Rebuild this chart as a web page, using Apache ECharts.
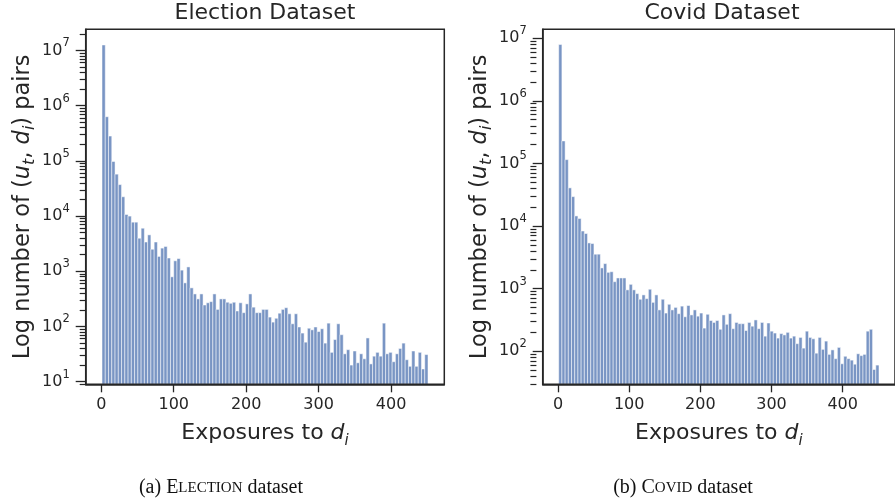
<!DOCTYPE html>
<html><head><meta charset="utf-8">
<script src="https://cdn.jsdelivr.net/npm/echarts@6/dist/echarts.min.js"></script>
<style>html,body{margin:0;padding:0;background:#fff}#c{width:895px;height:502px}</style>
</head><body><div id="c"></div>
<script>
// Histogram bins: 100 bins of width 4.5 starting at exposure 1
const binStart = 1;
const binWidth = 4.5;
const xTicks = [0, 100, 200, 300, 400];
const yMajor = [10, 100, 1e3, 1e4, 1e5, 1e6, 1e7];
const yMinor = [];
for (let e = 0; e <= 7; e++) for (let m = 2; m <= 9; m++) yMinor.push(m * Math.pow(10, e));

const electionCounts = [12600000, 631000, 282000, 97700, 57500, 37200, 22400, 10700, 10000, 7760,
 7760, 3980, 6030, 3390, 4570, 2510, 3390, 1860, 2630, 2820,
 1740, 794, 1550, 1700, 1050, 617, 1200, 501, 389, 316,
 389, 245, 269, 282, 389, 204, 316, 316, 275, 263,
 275, 191, 269, 178, 257, 389, 224, 178, 178, 204,
 204, 148, 120, 141, 174, 204, 219, 170, 112, 170,
 98, 76, 52, 93, 87, 98, 81, 91, 50, 115,
 34, 58, 112, 71, 32, 38, 20, 36, 22, 32,
 26, 62, 21, 29, 34, 29, 115, 32, 34, 23,
 32, 40, 50, 25, 19, 36, 19, 34, 17, 31];

const covidCounts = [7940000, 229000, 115000, 40700, 29500, 14500, 13200, 8320, 7590, 5370,
 5250, 3550, 3550, 2140, 2510, 1820, 1860, 1290, 1480, 1480,
 1480, 955, 1170, 955, 832, 676, 794, 692, 977, 603,
 794, 457, 676, 407, 562, 457, 501, 398, 525, 355,
 537, 380, 457, 363, 407, 234, 389, 309, 288, 309,
 224, 380, 269, 398, 229, 288, 275, 275, 214, 288,
 251, 316, 229, 288, 174, 282, 209, 195, 162, 191,
 182, 200, 162, 174, 132, 166, 112, 209, 166, 158,
 93, 166, 107, 145, 89, 105, 76, 115, 63, 83,
 76, 72, 62, 91, 85, 89, 209, 224, 51, 60];

const titles = ['Election Dataset', 'Covid Dataset'];
const yRange = [[8.97, 2.42e7], [29.6, 1.39e7]];
const xRange = [-21.5, 473.5];

const INK = '#262626';
const BAR = '#7995c4';
const FONT = 'DejaVu Sans';

function toBins(counts) {
  return counts.map((c, i) => [binStart + i * binWidth, binStart + (i + 1) * binWidth, c]);
}

const grids = [
  {left: 85.7, top: 29.3, width: 358.6, height: 355},
  {left: 542.7, top: 29.3, width: 358.6, height: 355}
];

function nameRich(fs) {
  return {
    n: {fontSize: fs, fontFamily: FONT, color: INK, lineHeight: fs + 8},
    i: {fontSize: fs, fontFamily: FONT, color: INK, fontStyle: 'italic', lineHeight: fs + 8},
    s: {fontSize: Math.round(fs * 0.7), fontFamily: FONT, color: INK, fontStyle: 'italic', lineHeight: 14, verticalAlign: 'bottom'}
  };
}

const xAxes = [], yAxes = [], series = [];
[0, 1].forEach(g => {
  xAxes.push({
    type: 'value', gridIndex: g, min: xRange[0], max: xRange[1], z: 5,
    axisLine: {show: true, onZero: false, lineStyle: {color: INK, width: 1.5}},
    axisTick: {show: true, customValues: xTicks, length: 8, lineStyle: {color: INK, width: 1.3}},
    axisLabel: {customValues: xTicks, fontSize: 16, color: INK, fontFamily: FONT, margin: 13},
    splitLine: {show: false},
    name: '{n|Exposures to }{i|d}{s|i}', nameLocation: 'middle', nameGap: 34,
    nameTextStyle: {rich: nameRich(22)}
  });
  yAxes.push({
    type: 'log', gridIndex: g, min: yRange[g][0], max: yRange[g][1], position: 'left', z: 5,
    axisLine: {show: true, onZero: false, lineStyle: {color: INK, width: 1.5}},
    axisTick: {show: true, customValues: yMajor, length: 10, lineStyle: {color: INK, width: 1.3}},
    axisLabel: {
      customValues: yMajor, margin: 16,
      formatter: v => '{b|10}{s|' + Math.round(Math.log10(v)) + '}',
      rich: {
        b: {fontSize: 16, color: INK, fontFamily: FONT, lineHeight: 26},
        s: {fontSize: 11.5, color: INK, fontFamily: FONT, lineHeight: 14, verticalAlign: 'top'}
      }
    },
    splitLine: {show: false}, minorTick: {show: false},
    name: '{n|Log number of (}{i|u}{s|t}{n|, }{i|d}{s|i}{n|) pairs}',
    nameLocation: 'middle', nameGap: 45, nameRotate: 90,
    nameTextStyle: {rich: nameRich(22.5)}
  });
  // minor ticks: a second log axis placed on the right, shifted back onto the left spine
  yAxes.push({
    type: 'log', gridIndex: g, min: yRange[g][0], max: yRange[g][1], position: 'right',
    offset: -grids[g].width, z: 5,
    axisLine: {show: false, onZero: false},
    axisTick: {show: true, inside: true, interval: 0, customValues: yMinor, length: 6, lineStyle: {color: INK, width: 1.2}},
    axisLabel: {show: false},
    splitLine: {show: false}
  });
  const yMin = yRange[g][0];
  series.push({
    type: 'custom', xAxisIndex: g, yAxisIndex: g * 2,
    data: toBins(g === 0 ? electionCounts : covidCounts),
    encode: {x: [0, 1], y: 2},
    renderItem: (params, api) => {
      const p0 = api.coord([api.value(0), api.value(2)]);
      const p1 = api.coord([api.value(1), yMin]);
      return {
        type: 'rect',
        shape: {x: p0[0], y: p0[1], width: p1[0] - p0[0], height: p1[1] - p0[1]},
        style: {fill: BAR, stroke: '#ffffff', lineWidth: 0.5}
      };
    }
  });
});

const capRich = {
  n: {fontSize: 20, fontFamily: 'Liberation Serif', fill: '#111'},
  c: {fontSize: 20, fontFamily: 'Liberation Serif', fill: '#111'},
  sc: {fontSize: 15, fontFamily: 'Liberation Serif', fill: '#111'}
};

const graphics = [
  {type: 'text', x: 265, y: 13, style: {text: titles[0], fontSize: 22, fontFamily: FONT, fill: INK, align: 'center', verticalAlign: 'middle'}},
  {type: 'text', x: 722, y: 13, style: {text: titles[1], fontSize: 22, fontFamily: FONT, fill: INK, align: 'center', verticalAlign: 'middle'}},
  {type: 'text', x: 221, y: 488, style: {text: '{n|(a) }{c|E}{sc|LECTION}{n| dataset}', align: 'center', verticalAlign: 'middle', rich: capRich}},
  {type: 'text', x: 683, y: 488, style: {text: '{n|(b) }{c|C}{sc|OVID}{n| dataset}', align: 'center', verticalAlign: 'middle', rich: capRich}}
];

const chart = echarts.init(document.getElementById('c'), null, {renderer: 'canvas'});
chart.setOption({
  animation: false,
  backgroundColor: '#ffffff',
  grid: grids.map(g => Object.assign({show: true, borderColor: INK, borderWidth: 1.5, backgroundColor: 'transparent', z: 4}, g)),
  xAxis: xAxes,
  yAxis: yAxes,
  series: series,
  graphic: graphics
});
</script>
</body></html>
